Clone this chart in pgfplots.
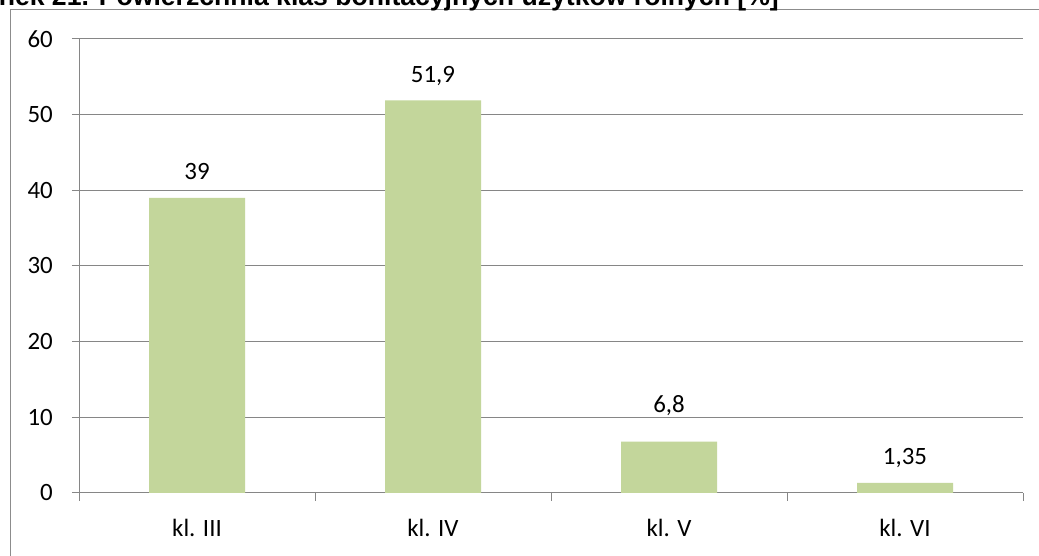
\documentclass[border=0pt]{standalone}
\usepackage{fontspec}
\setmainfont{Carlito}
\newfontfamily\titlef{Liberation Sans}
\usepackage{pgfplots}
\usepackage{pgfplotstable}
\pgfplotsset{compat=1.18}
\definecolor{axisgray}{HTML}{868686}
\definecolor{framegray}{HTML}{8C8C8C}
\definecolor{barcolor}{HTML}{C3D69B}
\pgfplotstableread{
x y lab sh
0 39 39 18
1 51.9 {51,9} 18
2 6.8 {6,8} 29
3 1.35 {1,35} 18
}\datatable
\begin{document}
\begin{tikzpicture}[x=1bp,y=1bp]
\useasboundingbox (0,0) rectangle (1039,556);
\clip (0,0) rectangle (1039,556);
\fill[white] (0,0) rectangle (1039,556);
\draw[framegray, line width=1bp] (10,-20) -- (10,546) -- (1060,546);
\node[anchor=base east, inner sep=0pt, font=\titlef\bfseries\fontsize{26.7}{31}\selectfont] at (779,550) {Rysunek 21. Powierzchnia klas bonitacyjnych użytków rolnych [\%]};
\begin{axis}[
  at={(79bp,63bp)}, anchor=south west,
  scale only axis, width=944bp, height=454bp,
  xmin=-0.5, xmax=3.5, ymin=0, ymax=60,
  axis x line*=bottom, axis y line*=left,
  axis line style={draw=axisgray, line width=1bp},
  font=\fontsize{25}{30}\selectfont,
  /pgf/number format/assume math mode=true,
  ytick={0,10,...,60},
  ymajorgrids,
  major grid style={draw=axisgray, line width=1bp},
  xtick={0,1,2,3},
  xticklabels={kl. III, kl. IV, kl. V, kl. VI},
  tick align=outside,
  major tick length=7bp,
  xtick style={draw=none},
  ytick style={draw=axisgray, line width=1bp},
  extra x ticks={-0.5,0.5,1.5,2.5,3.5},
  extra x tick labels={},
  extra x tick style={xtick style={draw=axisgray, line width=1bp}, major tick length=8bp},
  yticklabel style={anchor=east, inner sep=0pt, xshift=-19bp},
  xticklabel style={anchor=base, yshift=-37bp},
]
\addplot[ybar, fill=barcolor, draw=none, bar width=96bp,
  point meta=explicit symbolic,
  visualization depends on={\thisrow{sh} \as \mysh},
  nodes near coords,
  nodes near coords style={anchor=base, inner sep=0pt, yshift=\mysh*1bp, font=\fontsize{25}{30}\selectfont},
] table[x=x, y=y, meta=lab] {\datatable};
\end{axis}
\end{tikzpicture}
\end{document}
